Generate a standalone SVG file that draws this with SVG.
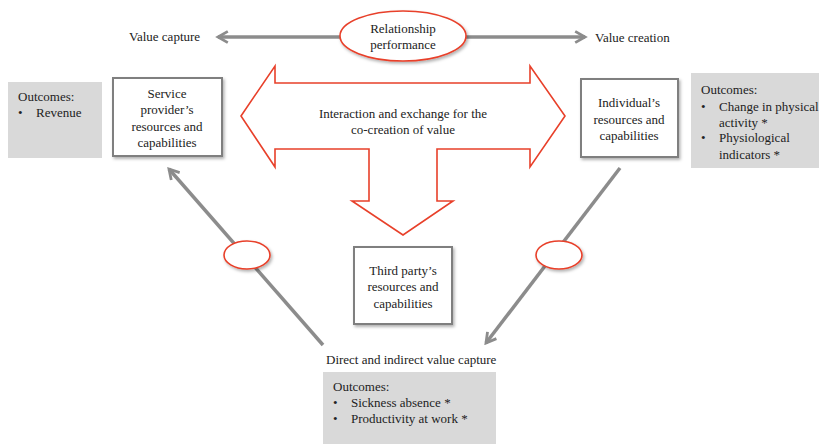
<svg xmlns="http://www.w3.org/2000/svg" width="819" height="444" viewBox="0 0 819 444">
<style>
.t{font-family:"Liberation Serif","DejaVu Serif",serif;font-size:13px;fill:#222}
.c{text-anchor:middle}
.box{fill:#fff;stroke:#7f7f7f;stroke-width:2}
.gbox{fill:#d9d9d9}
.red{fill:#fff;stroke:#e8402a;stroke-width:1.6}
.con{stroke:#8c8c8c;stroke-width:3.5;fill:none}
</style>
<defs>
<filter id="sh" x="-20%" y="-20%" width="140%" height="140%">
<feDropShadow dx="1.5" dy="2" stdDeviation="1.5" flood-color="#000" flood-opacity="0.3"/>
</filter>
<marker id="ah" viewBox="0 0 10 10" refX="8" refY="5" markerWidth="4" markerHeight="4" orient="auto" markerUnits="strokeWidth">
<path d="M1,1 L8,5 L1,9" fill="none" stroke="#8c8c8c" stroke-width="2"/>
</marker>
</defs>

<g id="connectors">
<line class="con" x1="342" y1="37" x2="218" y2="37" marker-end="url(#ah)"/>
<line class="con" x1="465" y1="37" x2="585" y2="37" marker-end="url(#ah)"/>
<line class="con" x1="323" y1="345" x2="169" y2="169" marker-end="url(#ah)"/>
<line class="con" x1="620" y1="168" x2="486" y2="343" marker-end="url(#ah)"/>
</g>

<g id="relationship-performance">
<ellipse class="red" cx="403" cy="36" rx="63" ry="25" filter="url(#sh)"/>
<text class="t c" x="403" y="33">Relationship</text>
<text class="t c" x="403" y="49">performance</text>
</g>

<g id="value-capture"><text class="t" x="129" y="41">Value capture</text></g>
<g id="value-creation"><text class="t" x="595" y="42">Value creation</text></g>

<g id="interaction-arrow">
<polygon class="red" points="241,116 275,66 275,83 530,83 530,66 565,116 530,167 530,149 437,149 437,201 453,201 403,235 352,201 369,201 369,149 275,149 275,167"/>
<text class="t c" x="403" y="118">Interaction and exchange for the</text>
<text class="t c" x="403" y="134">co-creation of value</text>
</g>

<g id="service-provider">
<rect class="box" x="113" y="78" width="109" height="78" filter="url(#sh)"/>
<text class="t c" x="167" y="98">Service</text>
<text class="t c" x="167" y="114">provider’s</text>
<text class="t c" x="167" y="131">resources and</text>
<text class="t c" x="167" y="147">capabilities</text>
</g>

<g id="individual">
<rect class="box" x="581" y="79" width="97" height="78" filter="url(#sh)"/>
<text class="t c" x="629" y="107">Individual’s</text>
<text class="t c" x="629" y="124">resources and</text>
<text class="t c" x="629" y="140">capabilities</text>
</g>

<g id="third-party">
<rect class="box" x="354" y="247" width="98" height="77" filter="url(#sh)"/>
<text class="t c" x="403" y="275">Third party’s</text>
<text class="t c" x="403" y="291">resources and</text>
<text class="t c" x="403" y="308">capabilities</text>
</g>

<g id="outcomes-left">
<rect class="gbox" x="8" y="82" width="94" height="76"/>
<text class="t" x="18" y="101">Outcomes:</text>
<text class="t" x="18" y="117">•</text>
<text class="t" x="36" y="117">Revenue</text>
</g>

<g id="outcomes-right">
<rect class="gbox" x="691" y="73" width="128" height="95"/>
<text class="t" x="701" y="94">Outcomes:</text>
<text class="t" x="701" y="111">•</text>
<text class="t" x="719" y="111">Change in physical</text>
<text class="t" x="719" y="127">activity *</text>
<text class="t" x="701" y="142">•</text>
<text class="t" x="719" y="142">Physiological</text>
<text class="t" x="719" y="159">indicators *</text>
</g>

<g id="left-oval"><ellipse class="red" cx="247" cy="255" rx="23" ry="14" filter="url(#sh)"/></g>
<g id="right-oval"><ellipse class="red" cx="559" cy="255" rx="23" ry="14" filter="url(#sh)"/></g>

<g id="direct-indirect"><text class="t" x="326" y="364">Direct and indirect value capture</text></g>

<g id="outcomes-bottom">
<rect class="gbox" x="323" y="372" width="173" height="72"/>
<text class="t" x="333" y="391">Outcomes:</text>
<text class="t" x="333" y="407">•</text>
<text class="t" x="351" y="407">Sickness absence *</text>
<text class="t" x="333" y="423">•</text>
<text class="t" x="351" y="423">Productivity at work *</text>
</g>
</svg>
